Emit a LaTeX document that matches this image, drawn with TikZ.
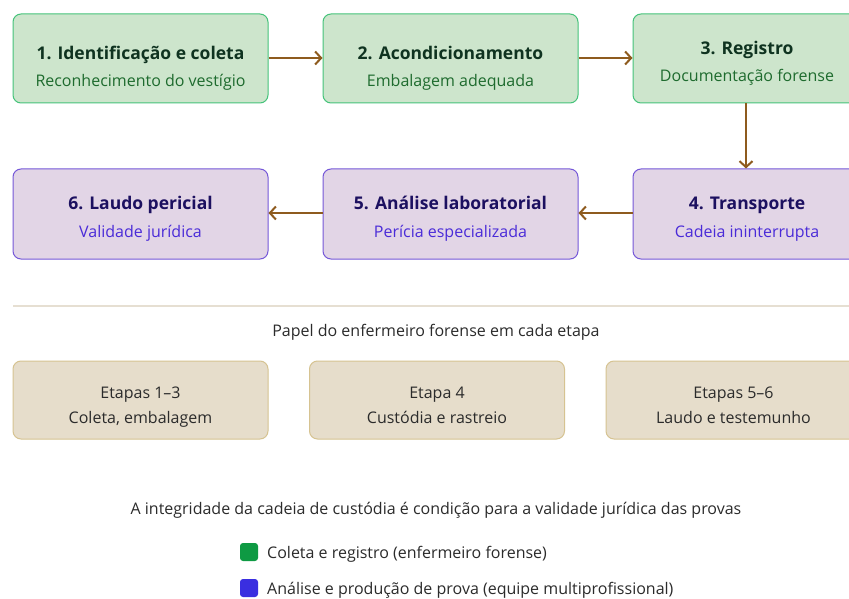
\documentclass[tikz,border=0pt]{standalone}
\usepackage{fontspec}
\setmainfont{Open Sans}
\usetikzlibrary{arrows.meta}
\definecolor{gfill}{HTML}{CDE5CC}
\definecolor{gdraw}{HTML}{45C37A}
\definecolor{gtitle}{HTML}{0F3320}
\definecolor{gsub}{HTML}{1E6B2E}
\definecolor{pfill}{HTML}{E2D5E6}
\definecolor{pdraw}{HTML}{7558D8}
\definecolor{ptitle}{HTML}{1C1060}
\definecolor{psub}{HTML}{4A2BD8}
\definecolor{tfill}{HTML}{E6DDCB}
\definecolor{tdraw}{HTML}{D6C391}
\definecolor{arrowc}{HTML}{8E5B1E}
\definecolor{sepc}{HTML}{E6DFD2}
\definecolor{txt}{HTML}{2B2B2B}
\definecolor{leggreen}{HTML}{0E9A43}
\definecolor{legblue}{HTML}{3A2EE0}
\tikzset{
  gbox/.style={draw=gdraw, fill=gfill, line width=1pt, rounded corners=8pt, minimum height=89pt, inner sep=0pt},
  pbox/.style={draw=pdraw, fill=pfill, line width=1pt, rounded corners=8pt, minimum height=90pt, inner sep=0pt},
  tbox/.style={draw=tdraw, fill=tfill, line width=1pt, rounded corners=8pt, minimum height=78pt, minimum width=255pt, inner sep=0pt},
  ttl/.style={font=\fontsize{17.5}{21}\selectfont\bfseries, inner sep=0pt, text height=12pt, text depth=3pt},
  sub/.style={font=\fontsize{16}{19}\selectfont, inner sep=0pt, text height=10pt, text depth=3pt},
  flow/.style={draw=arrowc, line width=2pt, -{Straight Barb[length=6pt,width=13pt,line width=2pt]}},
  plain/.style={font=\fontsize{16}{19}\selectfont, text=txt, inner sep=0pt, text height=10pt, text depth=3pt},
  legsq/.style={rounded corners=3pt, minimum width=18pt, minimum height=18pt, inner sep=0pt}
}
\begin{document}
\begin{tikzpicture}[x=1pt,y=-1pt]
\useasboundingbox[fill=white] (0,0) rectangle (849,599);
\clip (0,0) rectangle (849,599);
% row 1
\node[gbox, minimum width=255pt] (b1) at (140.5,58.5) {};
\node[gbox, minimum width=255pt] (b2) at (450.5,58.5) {};
\node[gbox, minimum width=228pt] (b3) at (747,58.5) {};
\node[ttl, text=gtitle] (t1) at (140.5,55) {1. Identificação e coleta};
\node[sub, text=gsub] (s1) at (140.5,83) {Reconhecimento do vestígio};
\node[ttl, text=gtitle] (t2) at (450.5,55) {2. Acondicionamento};
\node[sub, text=gsub] (s2) at (450.5,83) {Embalagem adequada};
\node[ttl, text=gtitle] (t3) at (747,50) {3. Registro};
\node[sub, text=gsub] (s3) at (747,78) {Documentação forense};
% row 2
\node[pbox, minimum width=255pt] (b6) at (140.5,214) {};
\node[pbox, minimum width=255pt] (b5) at (450.5,214) {};
\node[pbox, minimum width=228pt] (b4) at (747,214) {};
\node[ttl, text=ptitle] (t6) at (140.5,205) {6. Laudo pericial};
\node[sub, text=psub] (s6) at (140.5,233.5) {Validade jurídica};
\node[ttl, text=ptitle] (t5) at (450.5,205) {5. Análise laboratorial};
\node[sub, text=psub] (s5) at (450.5,233.5) {Perícia especializada};
\node[ttl, text=ptitle] (t4) at (747,205) {4. Transporte};
\node[sub, text=psub] (s4) at (747,233.5) {Cadeia ininterrupta};
% arrows
\draw[flow] (b1.east |- 0,58) -- (b2.west |- 0,58);
\draw[flow] (b2.east |- 0,58) -- (b3.west |- 0,58);
\draw[flow] (b3.south -| 746,0) -- (b4.north -| 746,0);
\draw[flow] (b4.west |- 0,213) -- (b5.east |- 0,213);
\draw[flow] (b5.west |- 0,213) -- (b6.east |- 0,213);
% separator
\coordinate (sepL) at (13,306);
\coordinate (sepR) at (849,306);
\draw[sepc, line width=1.5pt] (sepL) -- (sepR);
\node[plain] (role) at (436,333) {Papel do enfermeiro forense em cada etapa};
% bottom boxes
\node[tbox] (r1) at (140.5,400) {};
\node[tbox] (r2) at (437,400) {};
\node[tbox] (r3) at (733.5,400) {};
\node[plain] (r1a) at (140.5,395) {Etapas 1–3};
\node[plain] (r1b) at (140.5,420) {Coleta, embalagem};
\node[plain] (r2a) at (437,395) {Etapa 4};
\node[plain] (r2b) at (437,420) {Custódia e rastreio};
\node[plain] (r3a) at (733.5,395) {Etapas 5–6};
\node[plain] (r3b) at (733.5,420) {Laudo e testemunho};
% footer
\node[plain] (foot) at (436,511) {A integridade da cadeia de custódia é condição para a validade jurídica das provas};
\node[legsq, fill=leggreen] (lg) at (249,552) {};
\node[plain, anchor=west] (lgt) at (267,555) {Coleta e registro (enfermeiro forense)};
\node[legsq, fill=legblue] (lb) at (249,588) {};
\node[plain, anchor=west] (lbt) at (267,591) {Análise e produção de prova (equipe multiprofissional)};
\end{tikzpicture}
\end{document}
